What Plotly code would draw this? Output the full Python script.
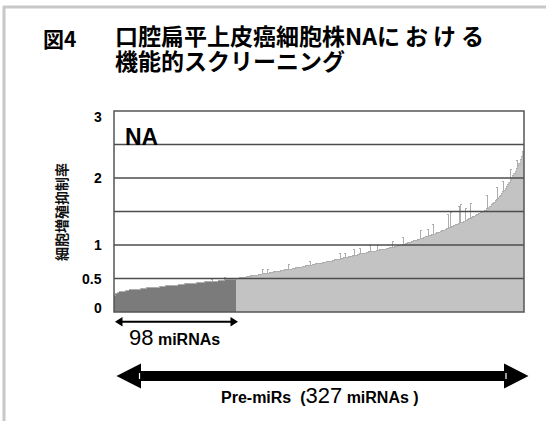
import plotly.graph_objects as go

# ---- data ----
n_total = 327
n_hit = 98

vals_hit = [
    0.25, 0.27, 0.28, 0.29, 0.30, 0.30, 0.31, 0.31, 0.31, 0.32,
    0.32, 0.32, 0.33, 0.33, 0.33, 0.33, 0.34, 0.34, 0.34, 0.34,
    0.34, 0.35, 0.35, 0.35, 0.35, 0.35, 0.36, 0.36, 0.36, 0.36,
    0.36, 0.37, 0.37, 0.37, 0.37, 0.37, 0.38, 0.38, 0.38, 0.38,
    0.38, 0.39, 0.39, 0.39, 0.39, 0.39, 0.40, 0.40, 0.40, 0.40,
    0.40, 0.41, 0.41, 0.41, 0.41, 0.41, 0.42, 0.42, 0.42, 0.42,
    0.42, 0.43, 0.43, 0.43, 0.43, 0.43, 0.44, 0.44, 0.44, 0.44,
    0.44, 0.44, 0.45, 0.45, 0.45, 0.45, 0.45, 0.46, 0.46, 0.46,
    0.46, 0.46, 0.46, 0.47, 0.47, 0.47, 0.47, 0.47, 0.48, 0.48,
    0.48, 0.48, 0.48, 0.48, 0.49, 0.49, 0.49, 0.49,
]

vals_rest = [
    0.50, 0.50, 0.51, 0.51, 0.51, 0.52, 0.52, 0.52, 0.53, 0.53,
    0.53, 0.54, 0.54, 0.54, 0.55, 0.55, 0.55, 0.56, 0.56, 0.56,
    0.57, 0.57, 0.57, 0.58, 0.58, 0.58, 0.59, 0.59, 0.59, 0.60,
    0.60, 0.60, 0.61, 0.61, 0.61, 0.62, 0.62, 0.62, 0.63, 0.63,
    0.63, 0.64, 0.64, 0.64, 0.65, 0.65, 0.65, 0.66, 0.66, 0.67,
    0.67, 0.67, 0.68, 0.68, 0.68, 0.69, 0.69, 0.70, 0.70, 0.70,
    0.71, 0.71, 0.71, 0.72, 0.72, 0.72, 0.73, 0.73, 0.74, 0.74,
    0.74, 0.75, 0.75, 0.76, 0.76, 0.76, 0.77, 0.77, 0.78, 0.78,
    0.78, 0.79, 0.79, 0.80, 0.80, 0.81, 0.81, 0.82, 0.82, 0.83,
    0.83, 0.83, 0.84, 0.84, 0.85, 0.85, 0.86, 0.86, 0.87, 0.87,
    0.87, 0.88, 0.88, 0.89, 0.89, 0.90, 0.90, 0.90, 0.91, 0.91,
    0.91, 0.92, 0.92, 0.92, 0.93, 0.93, 0.93, 0.94, 0.94, 0.95,
    0.95, 0.95, 0.96, 0.96, 0.97, 0.97, 0.98, 0.98, 0.99, 0.99,
    1.00, 1.00, 1.01, 1.01, 1.02, 1.02, 1.03, 1.03, 1.04, 1.05,
    1.05, 1.06, 1.06, 1.07, 1.08, 1.08, 1.09, 1.10, 1.10, 1.11,
    1.12, 1.12, 1.13, 1.14, 1.14, 1.15, 1.16, 1.16, 1.17, 1.18,
    1.19, 1.19, 1.20, 1.21, 1.22, 1.22, 1.23, 1.24, 1.25, 1.26,
    1.26, 1.27, 1.28, 1.29, 1.30, 1.30, 1.31, 1.32, 1.33, 1.34,
    1.34, 1.35, 1.36, 1.37, 1.38, 1.39, 1.40, 1.41, 1.42, 1.43,
    1.44, 1.45, 1.46, 1.47, 1.48, 1.49, 1.50, 1.51, 1.52, 1.54,
    1.55, 1.57, 1.58, 1.60, 1.62, 1.64, 1.66, 1.68, 1.70, 1.72,
    1.74, 1.77, 1.80, 1.82, 1.85, 1.88, 1.91, 1.94, 1.97, 2.00,
    2.03, 2.07, 2.10, 2.14, 2.18, 2.22, 2.27, 2.32, 2.40,
]

# visible upper whiskers (bar index, height above bar)
err_idx = [78, 88, 118, 122, 139, 156, 180, 184, 191, 196, 204, 210,
           222, 230, 244, 250, 254, 266, 268, 275, 276, 280, 284, 297,
           305, 310, 316, 321]
err_up = [0.03, 0.04, 0.06, 0.05, 0.07, 0.06, 0.08, 0.07, 0.10, 0.08, 0.09, 0.08,
          0.08, 0.10, 0.12, 0.10, 0.14, 0.20, 0.22, 0.25, 0.27, 0.18, 0.22, 0.20,
          0.18, 0.15, 0.15, 0.12]

y_tick_vals = [0, 0.5, 1, 2, 3]
y_tick_text = ["0", "0.5", "1", "2", "3"]
y_tick_shift = [4, 0, 0, 0, -6]
grid_vals = [0.5, 1.0, 1.5, 2.0, 2.5]

title_tag = "図4"
title_line1a = "口腔扁平上皮癌細胞株NA"
title_line1b = "における"
title_line2 = "機能的スクリーニング"
y_title = "細胞増殖抑制率"
panel_label = "NA"

DARK = "#7b7b7b"
LIGHT = "#c3c3c3"

values = vals_hit + vals_rest
xs = list(range(len(values)))
colors = [DARK if i < n_hit else LIGHT for i in xs]
err_arr = [0.0] * len(values)
for i, e in zip(err_idx, err_up):
    err_arr[i] = e

# ---- layout geometry (pixels) ----
W_FIG, H_FIG = 546, 421
L, R, T, B = 114, 524, 111, 312


def px(x):
    return (x - L) / (R - L)


def py(y):
    return (B - y) / (B - T)


LATIN = "Liberation Sans, Arial, sans-serif"
CJK = "Noto Sans CJK JP, sans-serif"

fig = go.Figure()
fig.add_trace(go.Bar(
    x=xs, y=values,
    marker=dict(color=colors, line=dict(width=0)),
    error_y=dict(type="data", array=err_arr, arrayminus=[0] * len(values),
                 color="#adadad", thickness=1, width=1, symmetric=False),
    hoverinfo="skip",
))

shapes = []
# gridlines drawn on top of bars
for g in grid_vals:
    shapes.append(dict(type="line", xref="paper", yref="y", x0=0, x1=1, y0=g, y1=g,
                       line=dict(color="#4d4d4d", width=1.6), layer="above"))
# plot frame
shapes.append(dict(type="rect", xref="paper", yref="paper", x0=0, x1=1, y0=0, y1=1,
                   line=dict(color="#555555", width=1.5), layer="above"))
# outer picture frame (left and top gray lines)
shapes.append(dict(type="line", xref="paper", yref="paper", x0=px(4), x1=px(4),
                   y0=py(6), y1=py(425), line=dict(color="#c8c8c8", width=3)))
shapes.append(dict(type="line", xref="paper", yref="paper", x0=px(3), x1=px(550),
                   y0=py(7), y1=py(7), line=dict(color="#c8c8c8", width=3)))


def tri(tip_x, back_x, cy, half):
    return dict(type="path", xref="paper", yref="paper",
                path=f"M {px(tip_x)},{py(cy)} L {px(back_x)},{py(cy - half)} "
                     f"L {px(back_x)},{py(cy + half)} Z",
                fillcolor="black", line=dict(color="black", width=0))


# small double arrow (98 miRNAs)
shapes.append(dict(type="line", xref="paper", yref="paper", x0=px(120), x1=px(233),
                   y0=py(321.7), y1=py(321.7), line=dict(color="black", width=2)))
shapes.append(tri(115, 122.5, 321.7, 4.8))
shapes.append(tri(238, 230.5, 321.7, 4.8))
# big double arrow (327 miRNAs)
shapes.append(dict(type="line", xref="paper", yref="paper", x0=px(138), x1=px(507),
                   y0=py(376), y1=py(376), line=dict(color="black", width=10)))
shapes.append(tri(116.5, 141, 376, 12.5))
shapes.append(tri(528.5, 504, 376, 12.5))
# tiny white marks where shaft meets heads
for wx in (139.5, 506.0):
    shapes.append(dict(type="line", xref="paper", yref="paper", x0=px(wx), x1=px(wx),
                       y0=py(373), y1=py(379), line=dict(color="white", width=1.2)))

ann = []
# title: tag + two-line heading in one text block (tight line spacing)
ann.append(dict(text=f"<b>{title_tag}</b>", xref="paper", yref="paper", x=px(41), y=py(38),
                xanchor="left", yanchor="middle", showarrow=False,
                font=dict(family=CJK, size=21, color="black")))
ann.append(dict(
    text=(f"<b><span style='font-size:23px'>{title_line1a}"
          f"<span style='letter-spacing:5px'>{title_line1b}</span></span><br>"
          f"<span style='font-size:23px'>{title_line2}</span></b>"),
    xref="paper", yref="paper", x=px(113), y=py(16),
    xanchor="left", yanchor="top", align="left", showarrow=False,
    font=dict(family=CJK, size=19, color="black")))
# panel label
ann.append(dict(text=f"<b>{panel_label}</b>", xref="paper", yref="paper", x=px(123), y=py(136.5),
                xanchor="left", yanchor="middle", showarrow=False,
                font=dict(family=LATIN, size=23, color="black")))
# y tick labels
for v, t, s in zip(y_tick_vals, y_tick_text, y_tick_shift):
    ann.append(dict(text=f"<b>{t}</b>", xref="paper", yref="y", x=px(104), y=v, yshift=s,
                    xanchor="right", yanchor="middle", showarrow=False,
                    font=dict(family=LATIN, size=14, color="black")))
# y title
ann.append(dict(text=f"<b>{y_title}</b>", xref="paper", yref="paper", x=px(61), y=py(212),
                xanchor="center", yanchor="middle", textangle=-90, showarrow=False,
                font=dict(family=CJK, size=14, color="#111111")))
# arrow labels
ann.append(dict(text=f"<span style='font-size:22px'>{n_hit}</span><b> miRNAs</b>",
                xref="paper", yref="paper", x=px(174), y=py(337),
                xanchor="center", yanchor="middle", showarrow=False,
                font=dict(family=LATIN, size=16, color="black")))
ann.append(dict(text=f"<b>Pre-miRs  (</b><span style='font-size:22px'>{n_total}</span><b> miRNAs )</b>",
                xref="paper", yref="paper", x=px(320), y=py(395),
                xanchor="center", yanchor="middle", showarrow=False,
                font=dict(family=LATIN, size=16, color="black")))

fig.update_layout(
    width=W_FIG, height=H_FIG,
    margin=dict(l=L, r=W_FIG - R, t=T, b=H_FIG - B, pad=0),
    paper_bgcolor="white", plot_bgcolor="white",
    showlegend=False, bargap=0,
    xaxis=dict(range=[-0.5, len(values) - 0.5], showgrid=False, showticklabels=False,
               zeroline=False, ticks="", fixedrange=True),
    yaxis=dict(range=[0, 3], showgrid=False, showticklabels=False, zeroline=False,
               ticks="", fixedrange=True),
    shapes=shapes, annotations=ann,
)

fig.write_html("out.html", config={"displayModeBar": False},
               post_script="document.body.style.margin='0';document.body.style.overflow='hidden';")
